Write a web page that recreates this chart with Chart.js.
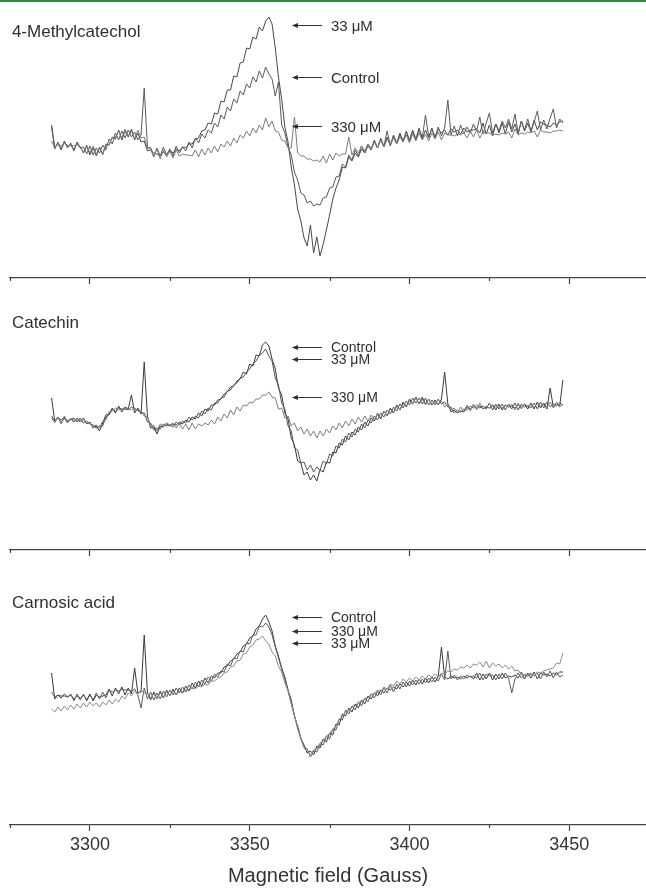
<!DOCTYPE html>
<html>
<head>
<meta charset="utf-8">
<script src="https://cdn.jsdelivr.net/npm/chart.js@4.4.1/dist/chart.umd.min.js"></script>
<style>
  body { margin: 0; background: #fff; }
  #wrap { position: relative; width: 646px; height: 890px; overflow: hidden; background: #fff; }
  #wrap canvas { position: absolute; left: 0; }
  #topline { position: absolute; left: 0; top: 0; width: 646px; height: 2px; background: #2b8a3e; }
</style>
</head>
<body>
<div id="wrap">
  <canvas id="panelA" width="646" height="300" style="top:0px"></canvas>
  <canvas id="panelB" width="646" height="275" style="top:300px"></canvas>
  <canvas id="panelC" width="646" height="315" style="top:575px"></canvas>
  <div id="topline"></div>
</div>
<script>
// magnetic field of each sample (Gauss), one per gauss
var fields = [
  3288,3289,3290,3291,3292,3293,3294,3295,3296,3297,
  3298,3299,3300,3301,3302,3303,3304,3305,3306,3307,
  3308,3309,3310,3311,3312,3313,3314,3315,3316,3317,
  3318,3319,3320,3321,3322,3323,3324,3325,3326,3327,
  3328,3329,3330,3331,3332,3333,3334,3335,3336,3337,
  3338,3339,3340,3341,3342,3343,3344,3345,3346,3347,
  3348,3349,3350,3351,3352,3353,3354,3355,3356,3357,
  3358,3359,3360,3361,3362,3363,3364,3365,3366,3367,
  3368,3369,3370,3371,3372,3373,3374,3375,3376,3377,
  3378,3379,3380,3381,3382,3383,3384,3385,3386,3387,
  3388,3389,3390,3391,3392,3393,3394,3395,3396,3397,
  3398,3399,3400,3401,3402,3403,3404,3405,3406,3407,
  3408,3409,3410,3411,3412,3413,3414,3415,3416,3417,
  3418,3419,3420,3421,3422,3423,3424,3425,3426,3427,
  3428,3429,3430,3431,3432,3433,3434,3435,3436,3437,
  3438,3439,3440,3441,3442,3443,3444,3445,3446,3447,
  3448
];

// 4-Methylcatechol (signal, arbitrary units)
var methylControl = [
  18,-4,3,-5,4,-3,2,-6,3,-3,
  -2,-9,-1,-10,-3,-8,0,-5,6,1,
  12,5,14,7,15,8,13,5,10,57,
  -2,-4,-12,-3,-11,-2,-10,-4,-11,-1,
  -8,-2,-6,3,-3,7,2,11,7,15,
  12,22,18,30,26,38,34,46,42,54,
  50,61,57,68,63,74,67,78,71,66,
  49,63,20,12,-2,-10,-27,-35,-48,-50,
  -58,-56,-61,-59,-60,-53,-52,-43,-42,-32,
  -31,-19,-22,-10,-15,-5,-11,-1,-8,1,
  -4,5,-3,7,-1,14,0,10,2,12,
  4,14,5,15,6,17,7,30,8,16,
  8,18,9,17,45,10,19,9,20,11,
  18,12,21,14,28,11,22,32,12,21,
  14,24,17,26,16,31,12,24,15,26,
  14,23,34,15,25,16,27,36,17,26,
  22
];
var methyl33 = [
  20,-2,1,-4,3,-1,0,-5,2,-2,
  -8,-1,-10,-3,-11,-2,-9,1,0,8,
  6,15,5,14,8,16,5,12,3,4,
  -6,-5,-8,-9,-11,-7,-10,-5,-8,-4,
  -6,-2,-3,1,1,6,7,14,15,22,
  21,32,31,44,43,55,55,69,68,82,
  83,97,96,108,106,118,114,124,128,121,
  97,68,46,18,3,-22,-40,-64,-76,-93,
  -101,-80,-108,-92,-111,-99,-85,-70,-54,-43,
  -35,-22,-23,-12,-16,-8,-12,-4,-8,-1,
  -5,4,-3,6,-2,8,-1,9,1,11,
  3,13,4,14,5,16,6,15,7,17,
  7,16,12,15,10,16,13,15,11,17,
  13,15,15,16,12,22,11,20,9,21,
  12,22,11,23,13,21,11,24,14,22,
  13,25,15,23,21,20,18,22,20,23,
  24
];
var methyl330 = [
  4,-3,1,-1,2,-2,0,-1,1,-3,
  -7,0,-8,-1,-9,-3,-10,0,0,7,
  8,14,7,16,9,14,6,15,7,8,
  -4,-2,-11,-4,-14,-5,-12,-6,-13,-5,
  -11,-9,-10,-10,-11,-5,-12,-4,-10,-3,
  -8,-1,-7,1,-2,4,-1,7,2,10,
  7,14,9,17,12,20,15,27,18,24,
  14,13,5,4,-3,-3,28,-8,-11,-11,
  -14,-14,-16,-15,-17,-11,-18,-9,-15,-8,
  -11,-9,-9,8,-10,-3,-8,-1,-6,1,
  -4,3,-3,5,-2,6,0,7,1,8,
  3,10,2,11,4,12,5,11,4,12,
  6,13,5,12,10,10,9,11,10,12,
  7,14,8,15,7,13,12,12,10,11,
  10,12,11,13,7,16,10,12,11,13,
  12,14,8,15,13,13,12,14,14,15,
  14
];

// Catechin
var catechinControl = [
  22,-1,2,0,3,-1,1,-2,2,-1,
  2,-4,-2,-8,-6,-11,-3,5,6,12,
  7,14,8,13,11,25,7,12,6,58,
  4,-8,-7,-14,-6,-7,-4,-6,-4,-5,
  -2,-4,0,-2,3,1,7,4,11,9,
  15,15,20,21,26,28,33,34,39,41,
  48,46,56,54,65,64,75,78,74,61,
  51,32,25,7,1,-18,-25,-41,-43,-55,
  -52,-60,-55,-61,-50,-52,-42,-43,-32,-33,
  -23,-25,-16,-20,-12,-15,-7,-10,-2,-6,
  2,-1,6,1,9,4,12,7,15,10,
  18,13,21,16,23,16,23,16,21,15,
  20,15,21,48,16,8,10,7,9,8,
  13,11,14,12,14,11,13,12,15,10,
  16,10,15,13,14,12,15,13,16,11,
  17,11,18,12,17,11,32,13,16,14,
  40
];
var catechin33 = [
  4,-1,3,-3,2,-3,1,2,-2,2,
  -3,-1,-4,-5,-8,-6,-6,3,5,11,
  9,12,11,11,10,13,11,10,7,7,
  -2,-3,-10,-8,-9,-4,-6,-5,-7,-2,
  -5,-1,-3,3,0,4,2,9,6,12,
  10,17,17,22,23,29,30,35,37,42,
  43,48,51,56,59,65,67,71,64,59,
  42,35,17,11,-6,-11,-28,-30,-43,-42,
  -50,-45,-52,-47,-50,-41,-44,-34,-36,-26,
  -28,-19,-22,-13,-17,-9,-12,-4,-8,0,
  -3,4,0,7,3,10,6,13,9,16,
  12,19,15,22,17,22,16,22,15,20,
  15,21,16,18,13,13,7,10,8,11,
  10,14,12,15,12,14,11,17,10,16,
  11,16,10,16,11,17,10,16,13,14,
  12,17,11,18,12,18,13,16,14,17,
  15
];
var catechin330 = [
  2,-3,3,-4,4,-2,1,0,0,-2,
  0,-3,-3,-6,-5,-8,-1,0,8,9,
  12,10,11,11,12,10,12,9,9,4,
  3,-6,-5,-11,-4,-6,-3,-5,-3,-8,
  -3,-9,-4,-10,-3,-9,-4,-6,-3,-5,
  0,-4,3,-1,6,2,10,5,13,9,
  15,14,18,17,21,21,25,25,28,23,
  22,11,12,2,4,-6,-3,-11,-7,-14,
  -9,-16,-11,-18,-11,-16,-9,-13,-6,-10,
  -3,-8,-1,-6,1,-4,3,-2,4,-1,
  5,0,7,2,9,4,11,7,14,10,
  16,14,19,16,22,16,21,15,21,16,
  18,16,19,13,16,10,12,7,13,8,
  15,9,16,10,17,11,14,12,15,13,
  14,12,15,13,16,10,17,11,16,14,
  15,13,16,14,15,13,18,12,18,13,
  16
];

// Carnosic acid
var carnosicControl = [
  22,-4,0,-3,1,-2,0,-4,-1,-3,
  0,-5,1,-6,0,-2,-1,0,6,-1,
  7,1,8,0,7,1,27,2,3,60,
  2,-5,3,-4,4,-3,5,-1,6,0,
  7,2,9,4,12,7,14,9,17,12,
  19,17,22,22,28,29,34,36,41,43,
  49,51,57,59,66,69,76,80,73,64,
  49,39,27,18,5,-5,-21,-31,-43,-50,
  -58,-56,-60,-51,-53,-44,-47,-38,-40,-29,
  -30,-19,-21,-13,-17,-9,-13,-5,-9,-1,
  -4,2,-1,5,2,7,5,8,6,11,
  8,13,9,15,10,16,11,17,12,18,
  13,19,48,18,16,19,17,18,16,19,
  17,19,16,22,15,21,16,22,15,21,
  16,22,17,19,18,20,17,23,16,22,
  17,23,16,22,20,21,19,22,20,23,
  23
];
var carnosic330 = [
  3,-2,0,-1,-1,-2,1,-6,1,-5,
  1,-6,0,-5,2,-4,3,-3,5,3,
  5,4,6,5,5,4,6,0,-13,7,
  -4,3,-5,2,-4,4,-2,5,0,7,
  2,8,3,10,6,13,8,15,11,18,
  14,21,18,24,23,31,29,37,36,44,
  43,52,51,60,60,69,68,72,68,60,
  48,37,26,16,4,-8,-21,-33,-44,-52,
  -54,-62,-56,-57,-49,-50,-41,-44,-34,-35,
  -24,-25,-15,-19,-11,-15,-7,-11,-3,-7,
  1,-3,4,0,7,2,10,3,11,6,
  13,8,14,10,15,11,16,12,17,13,
  18,14,21,15,44,16,20,15,19,16,
  20,18,19,17,22,15,21,19,20,15,
  21,16,22,17,2,16,22,17,20,19,
  21,19,22,16,23,18,24,17,23,18,
  20
];
var carnosic33 = [
  -14,-17,-12,-16,-11,-15,-10,-14,-9,-13,
  -8,-12,-7,-11,-8,-12,-7,-10,-5,-9,
  -4,-7,-1,-4,2,-1,4,1,5,2,
  2,-3,1,-4,2,-2,3,-1,4,0,
  4,2,5,4,7,6,9,8,11,10,
  14,14,17,18,22,23,28,29,34,35,
  41,42,48,50,55,56,59,54,51,43,
  39,29,23,12,4,-9,-20,-34,-43,-53,
  -56,-59,-55,-54,-48,-46,-41,-39,-34,-31,
  -24,-22,-16,-16,-11,-11,-7,-7,-3,-3,
  1,1,5,3,8,6,11,9,14,11,
  16,13,17,14,18,15,19,16,20,18,
  21,18,22,21,24,23,26,25,28,27,
  30,27,31,30,33,28,34,27,32,29,
  31,27,30,26,29,24,25,20,21,20,
  22,19,23,22,24,25,26,27,32,31,
  42
];

// axis ticks
var majorTicks = [3300, 3350, 3400, 3450];
var minorTicks = [3275, 3325, 3375, 3425];

// arrow labels: text and the signal level they point at
var methylNotes = ['33 \u03bcM', 'Control', '330 \u03bcM'];
var methylNoteLevels = [120, 68, 19];
var catechinNotes = ['Control', '33 \u03bcM', '330 \u03bcM'];
var catechinNoteLevels = [73, 61, 23];
var carnosicNotes = ['Control', '330 \u03bcM', '33 \u03bcM'];
var carnosicNoteLevels = [78, 64, 52];

var arrowHead = 3363.2, arrowTail = 3372.6, noteField = 3375.4;
var FONT = '"Liberation Sans", Arial, Helvetica, sans-serif';

// panel name, arrows and minor ticks
var eprNotes = {
  id: 'eprNotes',
  afterDatasetsDraw: function(chart, args, opts) {
    var ctx = chart.ctx, x = chart.scales.x, y = chart.scales.y;
    ctx.save();
    ctx.fillStyle = '#2f2f2f';
    ctx.strokeStyle = '#333';
    ctx.lineWidth = 1;
    ctx.textAlign = 'left';
    ctx.textBaseline = 'middle';
    ctx.font = '17px ' + FONT;
    ctx.fillText(opts.name, x.getPixelForValue(3275.6), y.getPixelForValue(opts.nameLevel));

    ctx.font = opts.noteSize + 'px ' + FONT;
    var hx = x.getPixelForValue(arrowHead), tx = x.getPixelForValue(arrowTail);
    opts.texts.forEach(function(t, i) {
      var yy = Math.round(y.getPixelForValue(opts.levels[i])) + 0.5;
      ctx.beginPath();
      ctx.moveTo(tx, yy);
      ctx.lineTo(hx + 4, yy);
      ctx.stroke();
      ctx.beginPath();
      ctx.moveTo(hx, yy);
      ctx.lineTo(hx + 6, yy - 2.5);
      ctx.lineTo(hx + 6, yy + 2.5);
      ctx.closePath();
      ctx.fill();
      ctx.fillText(t, x.getPixelForValue(noteField), yy + 1);
    });

    // short minor ticks under the axis line
    ctx.strokeStyle = '#444';
    ctx.lineWidth = 1.2;
    minorTicks.forEach(function(v) {
      var px = Math.round(x.getPixelForValue(v)) + 0.5;
      ctx.beginPath();
      ctx.moveTo(px, x.top);
      ctx.lineTo(px, x.top + 3);
      ctx.stroke();
    });
    ctx.restore();
  }
};

function makePanel(id, series, yMin, yMax, axisHeight, showLabels, notes) {
  var datasets = series.map(function(s) {
    return {
      data: fields.map(function(f, i) { return {x: f, y: s.values[i]}; }),
      borderColor: s.color,
      borderWidth: 1,
      pointRadius: 0,
      tension: 0
    };
  });
  return new Chart(document.getElementById(id), {
    type: 'line',
    data: { datasets: datasets },
    options: {
      responsive: false,
      animation: false,
      devicePixelRatio: 1,
      layout: { padding: { left: 10, right: 0, top: 0, bottom: 0 } },
      plugins: {
        legend: { display: false },
        tooltip: { enabled: false },
        eprNotes: notes
      },
      scales: {
        x: {
          type: 'linear',
          min: 3275,
          max: 3474,
          afterBuildTicks: function(s) { s.ticks = majorTicks.map(function(v) { return {value: v}; }); },
          afterFit: function(s) { s.height = axisHeight; },
          grid: { drawOnChartArea: false, drawTicks: true, tickLength: 6, tickColor: '#444', tickWidth: 1.2 },
          border: { display: true, color: '#444', width: 1.3 },
          ticks: {
            display: showLabels,
            color: '#333',
            padding: 3,
            maxRotation: 0,
            font: { family: FONT, size: 18 },
            callback: function(v) { return String(v); }
          },
          title: {
            display: showLabels,
            text: 'Magnetic field (Gauss)',
            color: '#333',
            font: { family: FONT, size: 20 },
            padding: { top: 0, bottom: 2 }
          }
        },
        y: { display: false, min: yMin, max: yMax }
      }
    },
    plugins: [eprNotes]
  });
}

makePanel('panelA', [
  { values: methyl330, color: '#7c7c7c' },
  { values: methylControl, color: '#5a5a5a' },
  { values: methyl33, color: '#484848' }
], -133, 145, 22, false, { name: '4-Methylcatechol', nameLevel: 113, texts: methylNotes, levels: methylNoteLevels, noteSize: 15 });

makePanel('panelB', [
  { values: catechin330, color: '#7c7c7c' },
  { values: catechin33, color: '#555' },
  { values: catechinControl, color: '#3a3a3a' }
], -130, 120, 25, false, { name: 'Catechin', nameLevel: 97, texts: catechinNotes, levels: catechinNoteLevels, noteSize: 14 });

makePanel('panelC', [
  { values: carnosic33, color: '#8a8a8a' },
  { values: carnosic330, color: '#5c5c5c' },
  { values: carnosicControl, color: '#3a3a3a' }
], -130, 120, 65, true, { name: 'Carnosic acid', nameLevel: 92, texts: carnosicNotes, levels: carnosicNoteLevels, noteSize: 14 });
</script>
</body>
</html>
